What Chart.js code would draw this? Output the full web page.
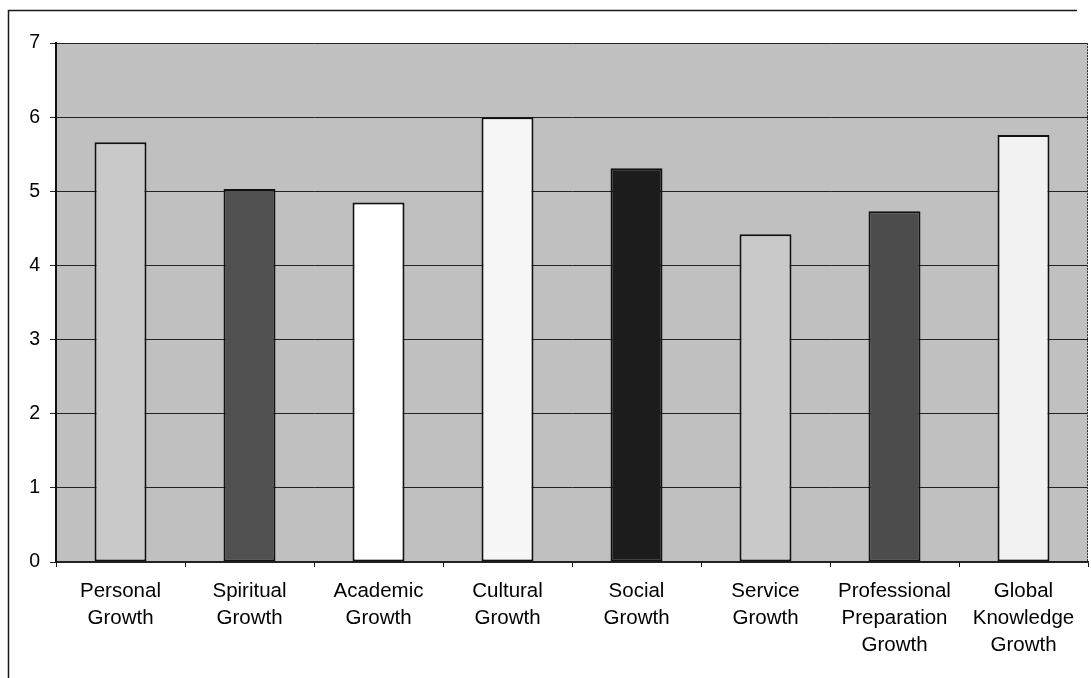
<!DOCTYPE html>
<html>
<head>
<meta charset="utf-8">
<script src="https://cdn.jsdelivr.net/npm/chart.js@4/dist/chart.umd.min.js"></script>
<style>
  html, body { margin: 0; padding: 0; background: #ffffff; }
  #wrap { width: 1091px; height: 678px; position: relative; }
  canvas { display: block; }
</style>
</head>
<body>
<div id="wrap"><canvas id="growthChart" width="1091" height="678"></canvas></div>
<script>
// Categories (multi-line axis labels)
const categories = [
  ["Personal", "Growth"],
  ["Spiritual", "Growth"],
  ["Academic", "Growth"],
  ["Cultural", "Growth"],
  ["Social", "Growth"],
  ["Service", "Growth"],
  ["Professional", "Preparation", "Growth"],
  ["Global", "Knowledge", "Growth"]
];

// Mean score per growth area
const scores = [5.66, 5.03, 4.85, 6.00, 5.31, 4.42, 4.73, 5.76];

// Value axis ticks
const yTicks = [0, 1, 2, 3, 4, 5, 6, 7];

// Grey-scale fills, one per bar
const barFills = ["#c9c9c9", "#505050", "#ffffff", "#f6f6f6", "#1c1c1c", "#c9c9c9", "#4c4c4c", "#f2f2f2"];

const FONT = "'Liberation Sans', Arial, sans-serif";

// Shaded plot area plus the thin outer frame
const decorations = {
  id: "decorations",
  beforeDraw(chart) {
    const { ctx, chartArea: a } = chart;
    ctx.save();
    ctx.fillStyle = "#c0c0c0";
    ctx.fillRect(a.left, a.top, a.right - a.left, a.bottom - a.top);
    // outer frame (left and top edges)
    ctx.strokeStyle = "#1a1a1a";
    ctx.lineWidth = 1.5;
    ctx.beginPath();
    ctx.moveTo(8.5, 678);
    ctx.lineTo(8.5, 10.5);
    ctx.lineTo(1077, 10.5);
    ctx.stroke();
    ctx.restore();
  },
  afterDraw(chart) {
    const { ctx, chartArea: a } = chart;
    ctx.save();
    ctx.strokeStyle = "#333333";
    ctx.lineWidth = 1;
    ctx.setLineDash([2, 1]);
    ctx.beginPath();
    ctx.moveTo(a.right - 0.5, a.top);
    ctx.lineTo(a.right - 0.5, a.bottom);
    ctx.stroke();
    ctx.restore();
  }
};

new Chart(document.getElementById("growthChart"), {
  type: "bar",
  data: {
    labels: categories,
    datasets: [{
      data: scores,
      backgroundColor: barFills,
      borderColor: "#111111",
      borderWidth: 2,
      borderSkipped: false,
      categoryPercentage: 1.0,
      barPercentage: 0.403
    }]
  },
  options: {
    responsive: false,
    animation: false,
    devicePixelRatio: 1,
    layout: { padding: { top: 43, right: 3, left: 0, bottom: 0 } },
    plugins: {
      legend: { display: false },
      title: { display: false },
      tooltip: { enabled: false }
    },
    scales: {
      x: {
        offset: true,
        grid: {
          display: true,
          drawOnChartArea: false,
          drawTicks: true,
          tickLength: 5,
          offset: true,
          color: "#111111",
          lineWidth: 1
        },
        border: { display: true, color: "#222222", width: 1.5 },
        ticks: {
          color: "#000000",
          padding: 11,
          maxRotation: 0,
          autoSkip: false,
          font: { family: FONT, size: 20.5, lineHeight: 1.32 }
        },
        afterFit(scale) { scale.height = 116; }
      },
      y: {
        min: 0,
        max: 7,
        afterBuildTicks(scale) { scale.ticks = yTicks.map(v => ({ value: v })); },
        grid: {
          color: "#222222",
          lineWidth: 1,
          drawTicks: true,
          tickLength: 6
        },
        border: { display: true, color: "#111111", width: 2 },
        ticks: {
          color: "#000000",
          padding: 10,
          font: { family: FONT, size: 19.5 }
        },
        afterFit(scale) { scale.width = 56; }
      }
    }
  },
  plugins: [decorations]
});
</script>
</body>
</html>
